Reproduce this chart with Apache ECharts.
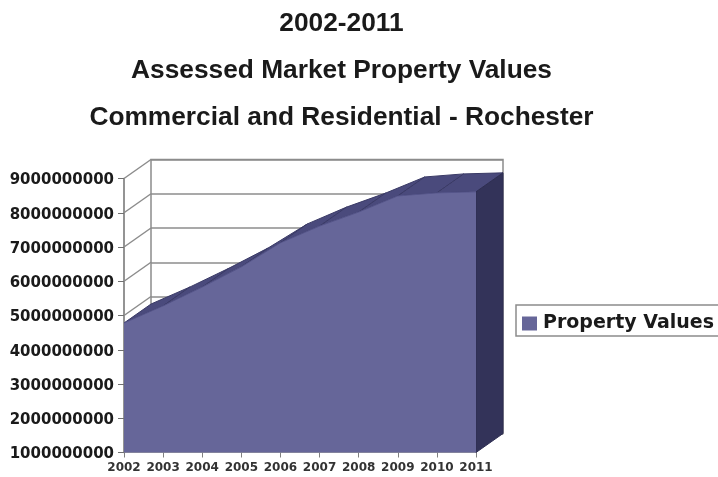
<!DOCTYPE html>
<html>
<head>
<meta charset="utf-8">
<style>html,body{margin:0;padding:0;background:#fff}#chart{width:718px;height:477px}</style>
<script src="https://cdn.jsdelivr.net/npm/echarts@6/dist/echarts.min.js"></script>
</head>
<body>
<div id="chart"></div>
<script>
const years = ['2002','2003','2004','2005','2006','2007','2008','2009','2010','2011'];
const propertyValues = [4.78e9,5.28e9,5.83e9,6.42e9,7.12e9,7.61e9,8.02e9,8.49e9,8.58e9,8.61e9];
const valueTicks = [1e9,2e9,3e9,4e9,5e9,6e9,7e9,8e9,9e9];
const titleLines = ['2002-2011','Assessed Market Property Values','Commercial and Residential - Rochester'];
const seriesName = 'Property Values';

// Pixel depth of the pseudo-3D extrusion
const DEPTH_X = 27, DEPTH_Y = -19;
const FACE = '#666699', SIDE = '#333359', TOP = '#4a4a7c', WALL = '#8c8c8c';

const chart = echarts.init(document.getElementById('chart'));
const titleY = [6, 53, 100];
const sansBold = { fontFamily: 'Liberation Sans', fontWeight: 'bold', color: '#1a1a1a' };

chart.setOption({
  animation: false,
  backgroundColor: '#ffffff',
  title: titleLines.map((text, i) => ({
    text, left: 336.5, top: titleY[i], textAlign: 'center',
    textStyle: { ...sansBold, fontSize: 26.3 }
  })),
  legend: {
    left: 516, top: 305, padding: [9, 30, 3, 6],
    data: [{ name: seriesName, icon: 'rect', itemStyle: { color: FACE } }],
    itemWidth: 15, itemHeight: 14, itemGap: 0,
    borderColor: '#8c8c8c', borderWidth: 1.5,
    textStyle: { fontFamily: 'DejaVu Sans', fontWeight: 'bold', fontSize: 19, color: '#1a1a1a', padding: [0, 0, 0, 1] }
  },
  grid: [
    { left: 124, top: 178.5, width: 352, height: 274, outerBoundsMode: 'none' },
    { left: 124 + DEPTH_X, top: 178.5 + DEPTH_Y, width: 352, height: 274, outerBoundsMode: 'none', show: true, borderColor: WALL, borderWidth: 1.5, backgroundColor: 'transparent' }
  ],
  xAxis: [
    {
      type: 'category', gridIndex: 0, data: years, boundaryGap: false,
      axisLine: { lineStyle: { color: '#a0a0a0', width: 1 } },
      axisTick: { show: true, length: 5, lineStyle: { color: '#808080' } },
      axisLabel: { interval: 0, fontFamily: 'DejaVu Sans', fontSize: 12, fontWeight: 'bold', color: '#333', margin: 9 }
    },
    { type: 'category', gridIndex: 1, data: years, boundaryGap: false, show: false }
  ],
  yAxis: [
    {
      type: 'value', gridIndex: 0, min: 1e9, max: 9e9, interval: 1e9,
      axisLine: { show: true, lineStyle: { color: '#707070', width: 1.5 } },
      axisTick: { show: true, length: 6, lineStyle: { color: '#707070' } },
      splitLine: { show: false },
      axisLabel: { formatter: v => String(v), fontFamily: 'DejaVu Sans', fontSize: 15, fontWeight: 'bold', color: '#1a1a1a', margin: 10, verticalAlign: 'top', lineHeight: 4 }
    },
    {
      type: 'value', gridIndex: 1, min: 1e9, max: 9e9, interval: 1e9,
      axisLine: { show: false }, axisTick: { show: false }, axisLabel: { show: false },
      splitLine: { show: true, lineStyle: { color: WALL, width: 1.5 } }
    }
  ],
  series: [
    {
      // Diagonal wall lines joining the front ticks to the back wall
      type: 'custom', xAxisIndex: 0, yAxisIndex: 0, z: 1, silent: true, clip: false,
      data: valueTicks.map(v => [0, v]),
      encode: { x: 0, y: 1 },
      renderItem(params, api) {
        const p = api.coord([api.value(0), api.value(1)]);
        return {
          type: 'line',
          shape: { x1: p[0], y1: p[1], x2: p[0] + DEPTH_X, y2: p[1] + DEPTH_Y },
          style: { stroke: WALL, lineWidth: 1.5 }
        };
      }
    },
    {
      // Top surface of each segment plus the closing side face
      type: 'custom', xAxisIndex: 0, yAxisIndex: 0, z: 3, silent: true, clip: false,
      data: propertyValues.map((v, i) => [i, v]),
      encode: { x: 0, y: 1 },
      renderItem(params, api) {
        const i = params.dataIndex;
        const p = api.coord([i, api.value(1)]);
        const children = [];
        if (i < propertyValues.length - 1) {
          const q = api.coord([i + 1, propertyValues[i + 1]]);
          children.push({
            type: 'polygon',
            shape: { points: [p, q, [q[0] + DEPTH_X, q[1] + DEPTH_Y], [p[0] + DEPTH_X, p[1] + DEPTH_Y]] },
            style: { fill: TOP, stroke: '#3a3a66', lineWidth: 1 }
          });
        } else {
          const b = api.coord([i, valueTicks[0]]);
          children.push({
            type: 'polygon',
            shape: { points: [p, b, [b[0] + DEPTH_X, b[1] + DEPTH_Y], [p[0] + DEPTH_X, p[1] + DEPTH_Y]] },
            style: { fill: SIDE, stroke: '#2e2e52', lineWidth: 1 }
          });
        }
        return { type: 'group', children };
      }
    },
    {
      name: seriesName,
      type: 'line', xAxisIndex: 0, yAxisIndex: 0, z: 4,
      data: propertyValues, showSymbol: false, smooth: false,
      lineStyle: { color: '#55558a', width: 1 },
      itemStyle: { color: FACE },
      areaStyle: { color: FACE, opacity: 1 }
    }
  ]
});
</script>
</body>
</html>
